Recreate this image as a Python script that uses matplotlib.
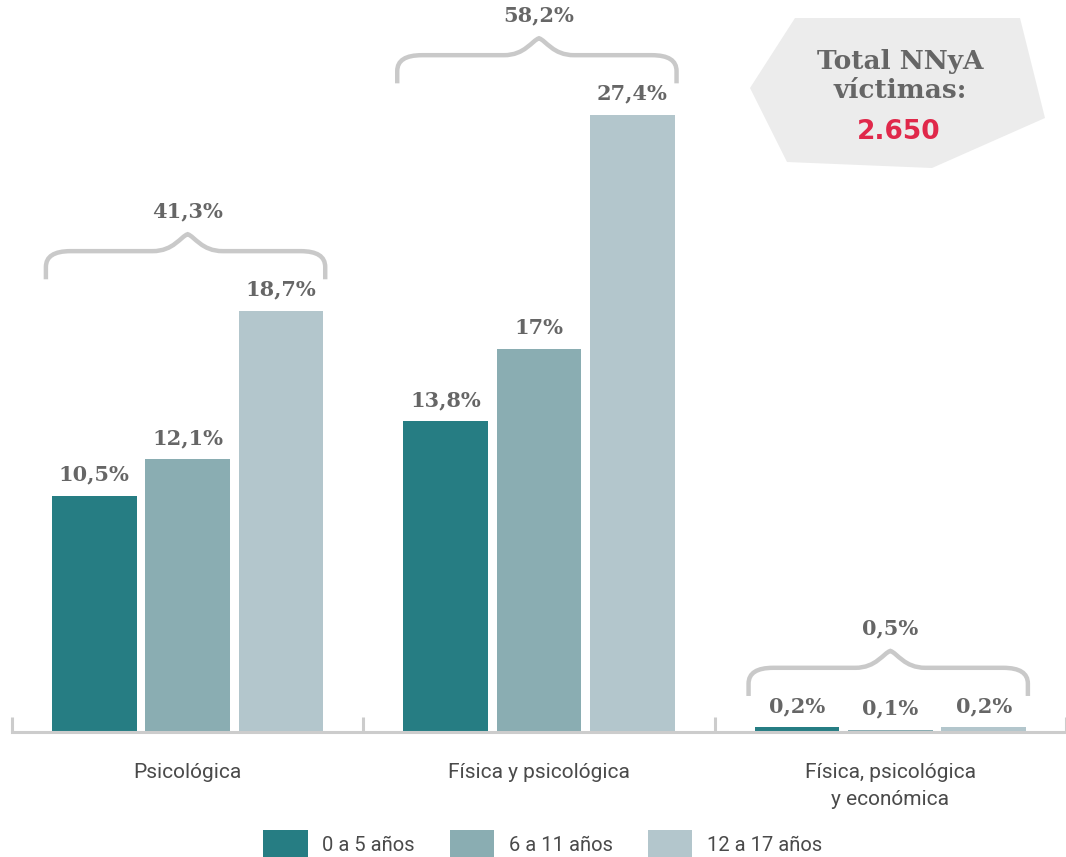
import matplotlib.pyplot as plt
import numpy as np
from matplotlib.path import Path
from matplotlib.patches import PathPatch, Polygon

categories = ['Psicológica', 'Física y psicológica', 'Física, psicológica\ny económica']
series = ['0 a 5 años', '6 a 11 años', '12 a 17 años']
values = [
    [10.5, 13.8, 0.2],   # 0 a 5
    [12.1, 17.0, 0.1],   # 6 a 11
    [18.7, 27.4, 0.2],   # 12 a 17
]
value_labels = [
    ['10,5%', '13,8%', '0,2%'],
    ['12,1%', '17%', '0,1%'],
    ['18,7%', '27,4%', '0,2%'],
]
group_totals = ['41,3%', '58,2%', '0,5%']
total_title = 'Total NNyA\nvíctimas:'
total_value = '2.650'

colors = ['#267d83', '#8aadb2', '#b3c6cc']
gray_txt = '#666666'
brace_col = '#c9c9c9'

W, H = 1066, 857
fig = plt.figure(figsize=(W / 100, H / 100), dpi=100)
ax = fig.add_axes([12 / W, (H - 732) / H, 1054 / W, 732 / H])

x = np.arange(len(categories))
width = 0.241
step = 0.266
for i, s in enumerate(series):
    pos = x + (i - 1) * step
    ax.bar(pos, values[i], width, color=colors[i], label=s, zorder=2)
    for j in range(len(categories)):
        ax.annotate(value_labels[i][j], (pos[j], values[i][j]), xytext=(0, 8),
                    textcoords='offset points', ha='center', va='bottom',
                    fontsize=15, fontweight='heavy', family='DejaVu Serif',
                    color=gray_txt)

ax.set_xlim(-0.5, 2.47)
ax.set_ylim(0, 32.5)

# curly braces over each group
for j in range(len(categories)):
    top = max(values[i][j] for i in range(len(series)))
    x0 = x[j] - step - width / 2 - 0.017
    x1 = x[j] + step + width / 2 + 0.005
    xc = x[j]
    ye = top + 1.4
    yh = ye + 1.25
    yt = yh + 0.75
    r = 0.07
    verts = [
        (x0, ye), (x0, ye + 0.55), (x0, yh), (x0 + r, yh),
        (xc - 0.1, yh),
        (xc - 0.04, yh), (xc - 0.02, yt - 0.1), (xc, yt),
        (xc + 0.02, yt - 0.1), (xc + 0.04, yh), (xc + 0.1, yh),
        (x1 - r, yh),
        (x1, yh), (x1, ye + 0.55), (x1, ye),
    ]
    codes = [Path.MOVETO, Path.LINETO, Path.CURVE3, Path.CURVE3,
             Path.LINETO,
             Path.CURVE4, Path.CURVE4, Path.CURVE4,
             Path.CURVE4, Path.CURVE4, Path.CURVE4,
             Path.LINETO,
             Path.CURVE3, Path.CURVE3, Path.LINETO]
    ax.add_patch(PathPatch(Path(verts, codes), fill=False, ec=brace_col,
                           lw=3.2, capstyle='butt', zorder=3))
    ax.annotate(group_totals[j], (xc, yt), xytext=(0, 9),
                textcoords='offset points', ha='center', va='bottom',
                fontsize=15, fontweight='heavy', family='DejaVu Serif',
                color=gray_txt)

for side in ['top', 'right', 'left']:
    ax.spines[side].set_visible(False)
ax.spines['bottom'].set_color('#cccccc')
ax.spines['bottom'].set_linewidth(2.2)
ax.spines['bottom'].set_zorder(4)
ax.set_yticks([])
ax.set_xticks(np.arange(-0.5, 3.0, 1.0))
ax.set_xticklabels([])
ax.tick_params(axis='x', which='major', direction='in', length=11,
               width=2.2, color='#cccccc')
ax.set_xticks(x, minor=True)
ax.set_xticklabels(categories, minor=True, fontsize=15, color='#4a4a4a',
                   family='Roboto', linespacing=1.55)
ax.tick_params(axis='x', which='minor', length=0, pad=22)

# total box
pts = [(795, 18), (1020, 18), (1045, 118), (932, 168), (787, 162), (750, 88)]
fig.patches.append(Polygon([(px / W, 1 - py / H) for px, py in pts],
                           closed=True, transform=fig.transFigure,
                           fc='#ececec', ec='none', zorder=0))
fig.text(900 / W, 1 - 76 / H, total_title, ha='center', va='center',
         fontsize=19, fontweight='heavy', family='DejaVu Serif',
         color=gray_txt, linespacing=1.25)
fig.text(899 / W, 1 - 132 / H, total_value, ha='center', va='center',
         fontsize=19, fontweight='bold', color='#e0284a')

fig.legend(loc='lower center', bbox_to_anchor=(0.509, -0.014), ncol=3,
           frameon=False, handlelength=2.2, handleheight=1.85,
           handletextpad=0.72, columnspacing=1.75, borderpad=0,
           labelcolor='#4a4a4a', prop={'size': 14.5, 'family': 'Roboto'})

fig.savefig('out.png', dpi=100)
